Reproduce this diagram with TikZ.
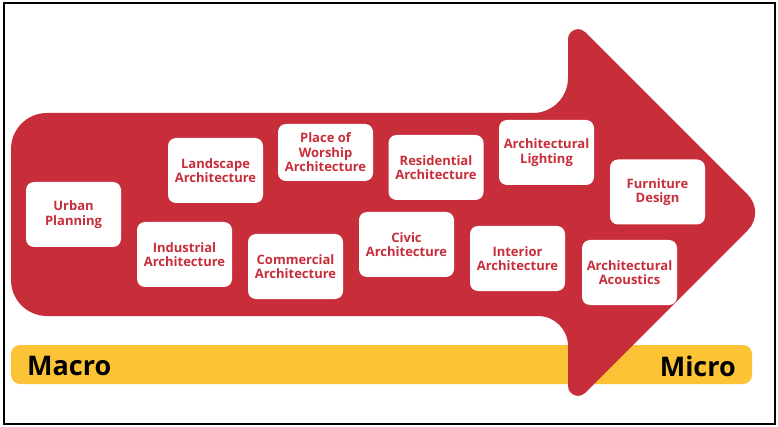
\documentclass[tikz,border=0pt]{standalone}
\usepackage{fontspec}
\setmainfont{Open Sans}
\definecolor{archred}{HTML}{C82D3A}
\definecolor{baryellow}{HTML}{FBC335}
\begin{document}
\begin{tikzpicture}[x=1pt,y=1pt,
  card/.style={rectangle, rounded corners=8pt, fill=white, text=archred,
    minimum width=95pt, minimum height=65pt, align=center, inner sep=1pt,
    font=\fontsize{13}{14.5}\selectfont\bfseries},
  scalelabel/.style={text=black, inner sep=0pt, font=\fontsize{27}{30}\selectfont\bfseries}]
\useasboundingbox (0,0) rectangle (778,-427);
\fill[white] (0,0) rectangle (778,-427);
% scale bar
\fill[baryellow, rounded corners=9pt] (11,-345) rectangle (752,-384);
% arrow
\fill[archred] (11,-149) arc[start angle=180, end angle=90, radius=36]
  -- (533,-113) arc[start angle=-90, end angle=0, radius=35]
  -- (568,-39.14) arc[start angle=180, end angle=45, radius=10]
  -- (747.82,-194.82) arc[start angle=45, end angle=-45, radius=25]
  -- (585.07,-392.93) arc[start angle=-45, end angle=-180, radius=10]
  -- (568,-346) arc[start angle=0, end angle=90, radius=30]
  -- (47,-316) arc[start angle=270, end angle=180, radius=36]
  -- cycle;
% cards
\node[card] (urban) at (73.5,-214.5) {Urban\\Planning};
\node[card] (landscape) at (215.5,-170.5) {Landscape\\Architecture};
\node[card] (industrial) at (184.5,-254.5) {Industrial\\Architecture};
\node[card] (commercial) at (295.5,-266.5) {Commercial\\Architecture};
\node[card, minimum height=57pt] (worship) at (325.5,-152.5) {Place of\\Worship\\Architecture};
\node[card] (residential) at (436,-167.5) {Residential\\Architecture};
\node[card] (civic) at (406.5,-244.5) {Civic\\Architecture};
\node[card] (interior) at (517.5,-258.5) {Interior\\Architecture};
\node[card] (lighting) at (546.5,-152.5) {Architectural\\Lighting};
\node[card] (furniture) at (657.5,-192) {Furniture\\Design};
\node[card] (acoustics) at (629.5,-272.5) {Architectural\\Acoustics};
% labels
\node[scalelabel, anchor=west] (macro) at (27,-366) {Macro};
\node[scalelabel, anchor=east] (micro) at (736,-366) {Micro};
% frame
\draw[black, line width=2.5pt] (4,-3) rectangle (775,-424);
\end{tikzpicture}
\end{document}
